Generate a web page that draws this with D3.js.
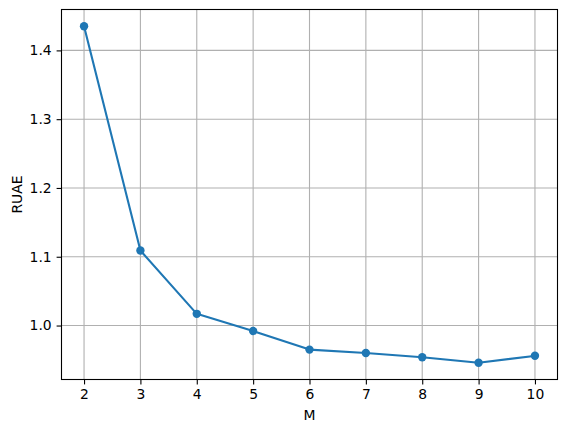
<!DOCTYPE html>
<html>
<head>
<meta charset="utf-8">
<script src="https://cdn.jsdelivr.net/npm/d3@7"></script>
<style>
  body { margin: 0; background: #fff; }
  svg { display: block; font-family: "DejaVu Sans", sans-serif; }
</style>
</head>
<body>
<svg id="chart" width="567" height="432"></svg>
<script>
// data
const mValues = [2, 3, 4, 5, 6, 7, 8, 9, 10];
const ruaeValues = [1.435, 1.109, 1.017, 0.992, 0.965, 0.960, 0.954, 0.946, 0.956];
const xTicks = [2, 3, 4, 5, 6, 7, 8, 9, 10];
const yTicks = [1.0, 1.1, 1.2, 1.3, 1.4];

const plotLeft = 61.5, plotRight = 557.5, plotTop = 9.5, plotBottom = 379.5;
const color = '#1f77b4';
const fontSize = 13.9;
const tickLen = 4.9;
const tickPad = 4.9;

const svg = d3.select('#chart');

// matplotlib style 5% margins
const xMin = d3.min(mValues), xMax = d3.max(mValues);
const yMin = d3.min(ruaeValues), yMax = d3.max(ruaeValues);
const xm = (xMax - xMin) * 0.05, ym = (yMax - yMin) * 0.05;

const x = d3.scaleLinear().domain([xMin - xm, xMax + xm]).range([plotLeft, plotRight]);
const y = d3.scaleLinear().domain([yMin - ym, yMax + ym]).range([plotBottom, plotTop]);

// grid
const grid = svg.append('g');
grid.selectAll('line.vx')
    .data(xTicks)
    .enter()
    .append('line')
    .attr('x1', (d) => x(d))
    .attr('x2', (d) => x(d))
    .attr('y1', plotTop)
    .attr('y2', plotBottom)
    .attr('stroke', '#b0b0b0')
    .attr('stroke-width', 1.1);
grid.selectAll('line.hy')
    .data(yTicks)
    .enter()
    .append('line')
    .attr('x1', plotLeft)
    .attr('x2', plotRight)
    .attr('y1', (d) => y(d))
    .attr('y2', (d) => y(d))
    .attr('stroke', '#b0b0b0')
    .attr('stroke-width', 1.1);

// axes
const xAxis = d3.axisBottom(x).tickValues(xTicks).tickFormat(d3.format('d'))
    .tickSize(tickLen).tickPadding(tickPad);
const yAxis = d3.axisLeft(y).tickValues(yTicks).tickFormat(d3.format('.1f'))
    .tickSize(tickLen).tickPadding(tickPad);

const gx = svg.append('g').attr('transform', `translate(0,${plotBottom})`).call(xAxis);
const gy = svg.append('g').attr('transform', `translate(${plotLeft},0)`).call(yAxis);
[gx, gy].forEach((g) => {
    g.select('.domain').remove();
    g.selectAll('.tick line').attr('stroke', '#000').attr('stroke-width', 1.1);
    g.selectAll('.tick text')
        .attr('fill', '#000')
        .attr('font-size', fontSize)
        .attr('font-family', '"DejaVu Sans", sans-serif');
});

// line and markers
const line = d3.line().x((d, i) => x(mValues[i])).y((d) => y(d));
svg.append('path')
    .datum(ruaeValues)
    .attr('d', line)
    .attr('fill', 'none')
    .attr('stroke', color)
    .attr('stroke-width', 2.1)
    .attr('stroke-linejoin', 'round')
    .attr('stroke-linecap', 'square');

svg.selectAll('circle.pt')
    .data(ruaeValues)
    .enter()
    .append('circle')
    .attr('cx', (d, i) => x(mValues[i]))
    .attr('cy', (d) => y(d))
    .attr('r', 4.2)
    .attr('fill', color);

// frame
svg.append('rect')
    .attr('x', plotLeft)
    .attr('y', plotTop)
    .attr('width', plotRight - plotLeft)
    .attr('height', plotBottom - plotTop)
    .attr('fill', 'none')
    .attr('stroke', '#000')
    .attr('stroke-width', 1.1);

// axis labels
svg.append('text')
    .attr('x', (plotLeft + plotRight) / 2)
    .attr('y', 420)
    .attr('text-anchor', 'middle')
    .attr('font-size', fontSize)
    .text('M');

svg.append('text')
    .attr('transform', `translate(22,${(plotTop + plotBottom) / 2}) rotate(-90)`)
    .attr('text-anchor', 'middle')
    .attr('font-size', fontSize)
    .text('RUAE');
</script>
</body>
</html>
